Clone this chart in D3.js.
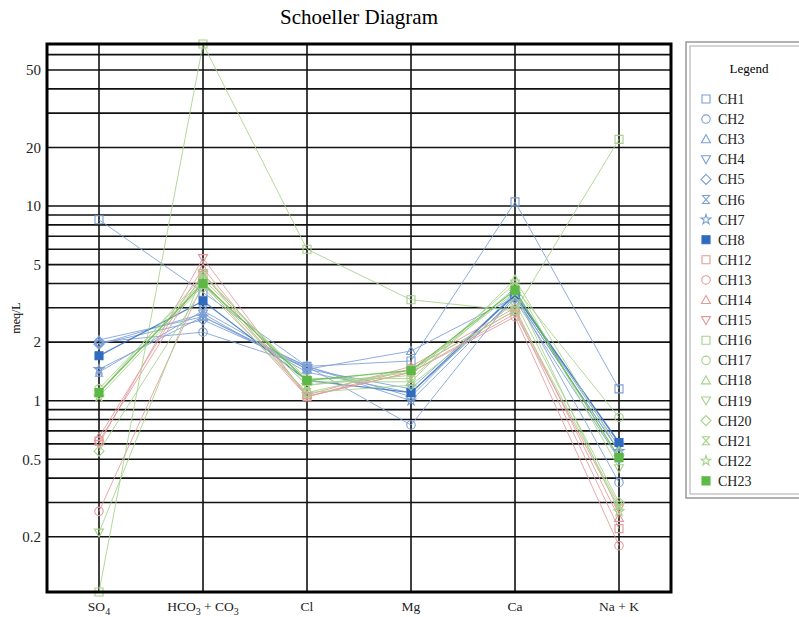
<!DOCTYPE html>
<html>
<head>
<meta charset="utf-8">
<script src="https://cdn.jsdelivr.net/npm/d3@7"></script>
<style>
  body { margin: 0; background: #fff; }
  text { font-family: "Liberation Serif", "Times New Roman", serif; }
</style>
</head>
<body>
<svg id="chart" width="799" height="617"></svg>
<script>
// ---- Data ----
const categories = ["SO4", "HCO3 + CO3", "Cl", "Mg", "Ca", "Na + K"];
const seriesNames = ["CH1","CH2","CH3","CH4","CH5","CH6","CH7","CH8",
                     "CH12","CH13","CH14","CH15",
                     "CH16","CH17","CH18","CH19","CH20","CH21","CH22","CH23"];
const CH1  = [8.5, 3.6, 1.5, 1.6, 10.5, 1.15];
const CH2  = [2.0, 2.25, 1.5, 0.75, 3.5, 0.38];
const CH3  = [2.05, 2.7, 1.45, 1.8, 3.4, 0.55];
const CH4  = [1.95, 2.8, 1.4, 1.1, 3.3, 0.5];
const CH5  = [1.95, 2.6, 1.5, 1.05, 3.6, 0.6];
const CH6  = [1.4, 2.9, 1.45, 1.15, 3.5, 0.58];
const CH7  = [1.45, 2.7, 1.5, 1.0, 3.4, 0.55];
const CH8  = [1.7, 3.25, 1.27, 1.1, 3.5, 0.61];
const CH12 = [0.62, 4.5, 1.05, 1.45, 2.9, 0.22];
const CH13 = [0.27, 4.0, 1.05, 1.4, 2.7, 0.18];
const CH14 = [0.65, 4.8, 1.07, 1.5, 3.0, 0.25];
const CH15 = [0.6, 5.4, 1.05, 1.4, 2.8, 0.28];
const CH16 = [0.104, 68, 6.0, 3.3, 2.9, 22];
const CH17 = [1.15, 4.2, 1.3, 1.3, 3.8, 0.82];
const CH18 = [1.1, 4.4, 1.25, 1.25, 4.2, 0.55];
const CH19 = [0.21, 4.5, 1.2, 1.35, 4.0, 0.45];
const CH20 = [0.55, 3.8, 1.1, 1.2, 3.2, 0.3];
const CH21 = [1.1, 4.1, 1.1, 1.45, 2.9, 0.29];
const CH22 = [1.05, 3.9, 1.2, 1.4, 3.6, 0.27];
const CH23 = [1.1, 4.0, 1.27, 1.43, 3.7, 0.51];
const seriesValues = [CH1,CH2,CH3,CH4,CH5,CH6,CH7,CH8,CH12,CH13,CH14,CH15,
                      CH16,CH17,CH18,CH19,CH20,CH21,CH22,CH23];
const tickLabels = [0.2, 0.5, 1, 2, 5, 10, 20, 50];
const markerKinds = ["square","circle","triangle","down","diamond","hourglass","star","filled",
                     "square","circle","triangle","down",
                     "square","circle","triangle","down","diamond","hourglass","star","filled"];
const groups = ["blue","blue","blue","blue","blue","blue","blue","blue",
                "red","red","red","red",
                "green","green","green","green","green","green","green","green"];

// ---- Style ----
const palette = {
  blue:  { stroke: "#7a9fd6", fill: "#2f6cc0" },
  red:   { stroke: "#e39a9a", fill: "#d05050" },
  green: { stroke: "#a6d18a", fill: "#5cb945" }
};

const svg = d3.select("#chart");
const plot = { left: 47, right: 671, top: 44, bottom: 592 };

const x = d3.scalePoint().domain(categories).range([plot.left, plot.right]).padding(0.5);
const y = d3.scaleLog().domain([0.104, 68]).range([plot.bottom, plot.top]);

// Title
svg.append("text").attr("x", 359).attr("y", 24).attr("text-anchor", "middle")
  .attr("font-size", 21).text("Schoeller Diagram");

// y label
svg.append("text").attr("transform", "translate(20,318) rotate(-90)")
  .attr("text-anchor", "middle").attr("font-size", 12).text("meq/L");

// horizontal gridlines
const gridVals = [];
[0.1, 1, 10].forEach(d => { for (let k = 1; k <= 9; k++) { const v = +(k * d).toPrecision(3); if (v >= 0.104 && v <= 68) gridVals.push(v); } });
const g = svg.append("g");
g.selectAll("line.h").data(gridVals).join("line")
  .attr("x1", plot.left).attr("x2", plot.right)
  .attr("y1", d => y(d)).attr("y2", d => y(d))
  .attr("stroke", "#111").attr("stroke-width", 1.6);
g.selectAll("line.v").data(categories).join("line")
  .attr("x1", d => x(d)).attr("x2", d => x(d))
  .attr("y1", plot.top).attr("y2", plot.bottom)
  .attr("stroke", "#111").attr("stroke-width", 1.6);

// y axis labels
const yAxis = d3.axisLeft(y).tickValues(tickLabels).tickFormat(d => String(d)).tickSize(0).tickPadding(6);
const ya = svg.append("g").attr("transform", `translate(${plot.left},0)`).call(yAxis);
ya.select(".domain").remove();
ya.selectAll("text").attr("font-size", 15).attr("font-family", "Liberation Serif").attr("fill", "#222");

// x axis labels with subscripts
const xLab = {
  "SO4": [["SO", false], ["4", true]],
  "HCO3 + CO3": [["HCO", false], ["3", true], [" + CO", false], ["3", true]],
  "Cl": [["Cl", false]],
  "Mg": [["Mg", false]],
  "Ca": [["Ca", false]],
  "Na + K": [["Na + K", false]]
};
const xa = svg.append("g");
categories.forEach(c => {
  const t = xa.append("text").attr("x", x(c)).attr("y", 611).attr("text-anchor", "middle")
    .attr("font-size", 13.5).attr("fill", "#222");
  let sub = false;
  xLab[c].forEach(([s, isSub]) => {
    const ts = t.append("tspan").text(s);
    if (isSub && !sub) { ts.attr("dy", 4).attr("font-size", 10); sub = true; }
    else if (!isSub && sub) { ts.attr("dy", -4); sub = false; }
  });
});

// symbols
function symbolPath(kind) {
  const s = 4;
  switch (kind) {
    case "square": case "filled": return `M${-s},${-s}H${s}V${s}H${-s}Z`;
    case "circle": return d3.symbol(d3.symbolCircle, 56)();
    case "triangle": return `M0,${-s-0.5}L${s+0.5},${s-0.5}L${-s-0.5},${s-0.5}Z`;
    case "down": return `M0,${s+0.5}L${s+0.5},${-s+0.5}L${-s-0.5},${-s+0.5}Z`;
    case "diamond": return `M0,${-s-1}L${s+1},0L0,${s+1}L${-s-1},0Z`;
    case "hourglass": return `M${-s+0.5},${-s}H${s-0.5}L${-s+0.5},${s}H${s-0.5}Z`;
    case "star": return d3.symbol(d3.symbolStar, 30)();
  }
}

// series lines
const line = d3.line().x((d, i) => x(categories[i])).y(d => y(d));
const series = seriesNames.map((n, i) => ({ name: n, values: seriesValues[i], kind: markerKinds[i], group: groups[i] }));

const sg = svg.append("g");
series.forEach(s => {
  const col = palette[s.group];
  const filled = s.kind === "filled";
  sg.append("path").datum(s.values).attr("d", line)
    .attr("fill", "none").attr("stroke", filled ? col.fill : col.stroke)
    .attr("stroke-width", filled ? 1.3 : 1).attr("stroke-opacity", filled ? 0.8 : 0.85);
});
series.forEach(s => {
  const col = palette[s.group];
  const filled = s.kind === "filled";
  sg.selectAll(null).data(s.values).join("path")
    .attr("transform", (d, i) => `translate(${x(categories[i])},${y(d)})`)
    .attr("d", symbolPath(s.kind))
    .attr("fill", filled ? col.fill : "none")
    .attr("stroke", filled ? col.fill : col.stroke)
    .attr("stroke-width", 1.1);
});

// plot border
svg.append("rect").attr("x", plot.left).attr("y", plot.top)
  .attr("width", plot.right - plot.left).attr("height", plot.bottom - plot.top)
  .attr("fill", "none").attr("stroke", "#000").attr("stroke-width", 3);

// legend
const lg = svg.append("g");
lg.append("rect").attr("x", 686).attr("y", 42).attr("width", 120).attr("height", 456)
  .attr("fill", "#fff").attr("stroke", "#999").attr("stroke-width", 1.5);
lg.append("rect").attr("x", 690).attr("y", 46).attr("width", 120).attr("height", 448)
  .attr("fill", "none").attr("stroke", "#aaa").attr("stroke-width", 1);
lg.append("text").attr("x", 749).attr("y", 73).attr("text-anchor", "middle")
  .attr("font-size", 13).text("Legend");
series.forEach((s, i) => {
  const col = palette[s.group];
  const filled = s.kind === "filled";
  const yy = 99 + i * 20.1;
  lg.append("path").attr("transform", `translate(706,${yy})`).attr("d", symbolPath(s.kind))
    .attr("fill", filled ? col.fill : "none").attr("stroke", filled ? col.fill : col.stroke)
    .attr("stroke-width", 1.1);
  lg.append("text").attr("x", 718).attr("y", yy + 5).attr("font-size", 14).attr("fill", "#222").text(s.name);
});
</script>
</body>
</html>
